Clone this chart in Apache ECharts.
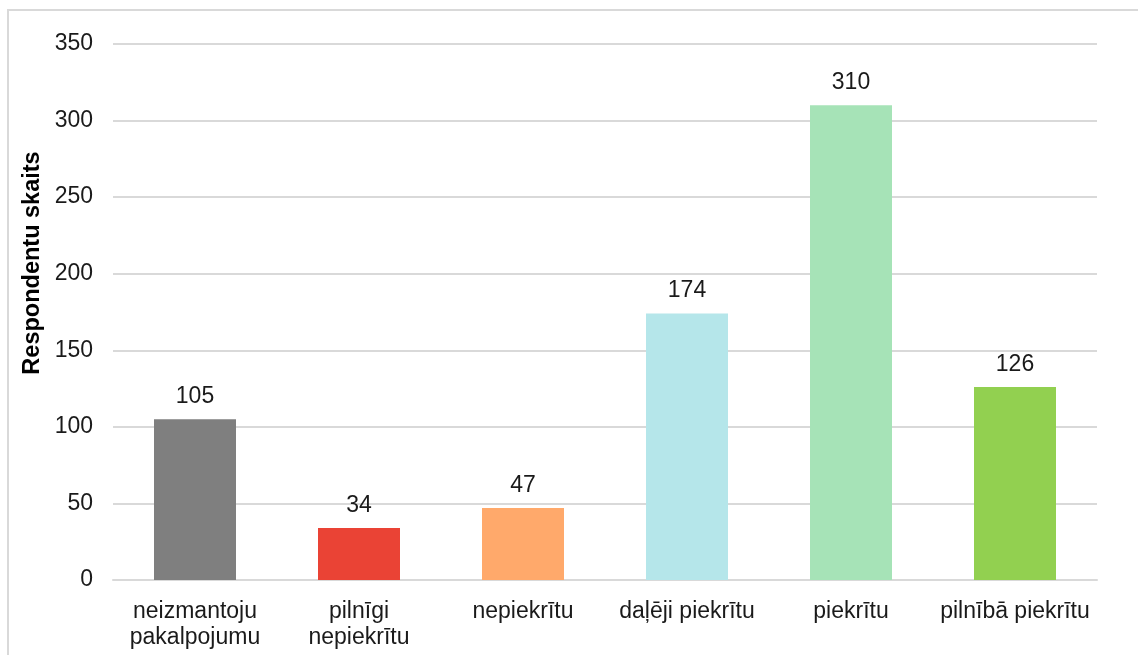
<!DOCTYPE html>
<html>
<head>
<meta charset="utf-8">
<title>Respondentu skaits</title>
<script src="https://cdn.jsdelivr.net/npm/echarts@6/dist/echarts.min.js"></script>
<style>
  html, body { margin: 0; padding: 0; background: #fff; overflow: hidden; }
  #frame {
    position: absolute; left: 7px; top: 9px; width: 1200px; height: 700px;
    border: 2px solid #d9d9d9; box-sizing: border-box;
  }
  #chart { position: absolute; left: 0; top: 0; width: 1138px; height: 655px; }
</style>
</head>
<body>
<div id="frame"></div>
<div id="chart"></div>
<script>
// kategorijas un vērtības
const categories = ['neizmantoju\npakalpojumu', 'pilnīgi\nnepiekrītu', 'nepiekrītu', 'daļēji piekrītu', 'piekrītu', 'pilnībā piekrītu'];
const values = [105, 34, 47, 174, 310, 126];
const barColors = ['#7f7f7f', '#ea4335', '#ffa96b', '#b5e6ea', '#a6e3b7', '#92d050'];
const yTicks = [0, 50, 100, 150, 200, 250, 300, 350];
const yName = 'Respondentu skaits';

const FONT = '"Liberation Sans", Arial, sans-serif';

const chart = echarts.init(document.getElementById('chart'));

chart.setOption({
  animation: false,
  grid: { left: 113, right: 41, top: 44, bottom: 75 },
  // ass nosaukums – nedaudz virs centra kā oriģinālā
  graphic: [{
    type: 'text',
    x: 33, y: 263,
    rotation: Math.PI / 2,
    style: {
      text: yName, fill: '#000', fontSize: 23.5, fontWeight: 'bold',
      fontFamily: FONT, align: 'center', verticalAlign: 'middle'
    }
  }],
  xAxis: {
    type: 'category',
    data: categories,
    axisLine: { lineStyle: { color: '#d9d9d9', width: 2 } },
    axisTick: { show: false },
    axisLabel: {
      color: '#1a1a1a', fontSize: 23, fontFamily: FONT,
      lineHeight: 26, margin: 19, interval: 0
    }
  },
  yAxis: {
    type: 'value',
    min: yTicks[0],
    max: yTicks[yTicks.length - 1],
    interval: 50,
    axisLine: { show: false },
    axisTick: { show: false },
    axisLabel: { color: '#1a1a1a', fontSize: 23, fontFamily: FONT, margin: 20 },
    splitLine: { lineStyle: { color: '#d9d9d9', width: 2 } }
  },
  series: [{
    type: 'bar',
    barWidth: '50%',
    data: values.map((v, i) => ({ value: v, itemStyle: { color: barColors[i] } })),
    label: {
      show: true, position: 'top', distance: 11,
      color: '#1a1a1a', fontSize: 23, fontFamily: FONT
    }
  }]
});

window.addEventListener('resize', () => chart.resize());
</script>
</body>
</html>
